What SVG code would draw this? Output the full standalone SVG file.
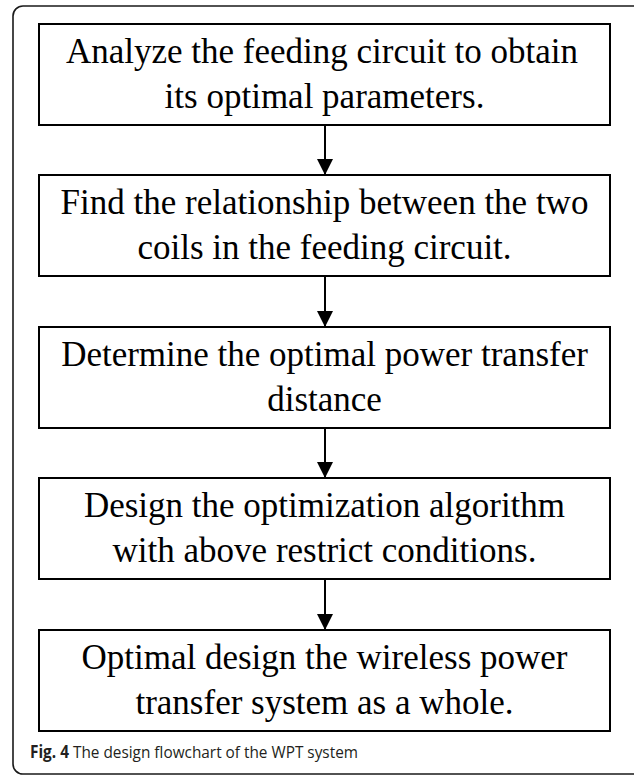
<svg xmlns="http://www.w3.org/2000/svg" width="634" height="776" viewBox="0 0 634 776">
  <style>
    .frame { fill: none; stroke: #1a1a1a; stroke-width: 1.6; }
    .box { fill: #ffffff; stroke: #000000; stroke-width: 2; }
    .label { font-family: "Liberation Serif", "Times New Roman", serif; font-size: 35px; fill: #000000; text-anchor: middle; }
    .link { stroke: #000000; stroke-width: 2; fill: none; }
    .caption { font-family: "Open Sans", "Noto Sans", sans-serif; font-size: 17px; fill: #231f20; }
  </style>
  <defs>
    <marker id="arrow" viewBox="0 0 16 16" refX="16" refY="8" markerWidth="16" markerHeight="16" markerUnits="userSpaceOnUse" orient="auto">
      <path d="M0,0 L16,8 L0,16 Z" fill="#000000"/>
    </marker>
  </defs>
  <rect width="634" height="776" fill="#ffffff"/>
  <!-- figure frame -->
  <rect class="frame" x="13" y="6" width="630" height="768" rx="10" ry="10"/>

  <g id="step1">
    <rect class="box" x="39" y="24" width="571" height="101"/>
    <text class="label" x="322" y="63">Analyze the feeding circuit to obtain</text>
    <text class="label" x="324.5" y="108">its optimal parameters.</text>
  </g>
  <g id="step2">
    <rect class="box" x="39" y="175" width="571" height="101"/>
    <text class="label" x="324.5" y="214">Find the relationship between the two</text>
    <text class="label" x="324.5" y="259">coils in the feeding circuit.</text>
  </g>
  <g id="step3">
    <rect class="box" x="39" y="327" width="571" height="101"/>
    <text class="label" x="324.5" y="366">Determine the optimal power transfer</text>
    <text class="label" x="324.5" y="411">distance</text>
  </g>
  <g id="step4">
    <rect class="box" x="39" y="478" width="571" height="101"/>
    <text class="label" x="324.5" y="517">Design the optimization algorithm</text>
    <text class="label" x="324.5" y="562">with above restrict conditions.</text>
  </g>
  <g id="step5">
    <rect class="box" x="39" y="630" width="571" height="101"/>
    <text class="label" x="324.5" y="669">Optimal design the wireless power</text>
    <text class="label" x="324.5" y="714">transfer system as a whole.</text>
  </g>

  <g id="connectors">
    <line class="link" x1="325" y1="125" x2="325" y2="175" marker-end="url(#arrow)"/>
    <line class="link" x1="325" y1="276" x2="325" y2="327" marker-end="url(#arrow)"/>
    <line class="link" x1="325" y1="428" x2="325" y2="478" marker-end="url(#arrow)"/>
    <line class="link" x1="325" y1="579" x2="325" y2="630" marker-end="url(#arrow)"/>
  </g>

  <text class="caption" x="30" y="758" textLength="328" lengthAdjust="spacingAndGlyphs"><tspan font-weight="bold">Fig. 4</tspan> The design flowchart of the WPT system</text>
</svg>
